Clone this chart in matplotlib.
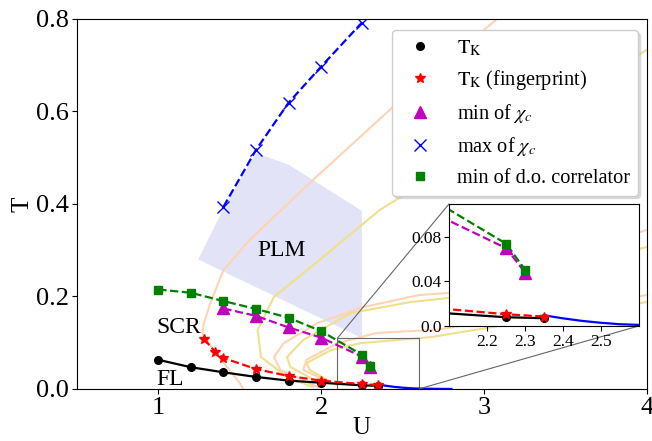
import matplotlib.pyplot as plt
from mpl_toolkits.axes_grid1.inset_locator import mark_inset

plt.rcParams['font.family'] = 'serif'
plt.rcParams['font.serif'] = ['Liberation Serif', 'DejaVu Serif']
plt.rcParams['mathtext.fontset'] = 'stix'

# T_K (black)
u_tk = [1.0, 1.2, 1.4, 1.6, 1.8, 2.0, 2.25, 2.35]
t_tk = [0.063, 0.047, 0.036, 0.026, 0.018, 0.0135, 0.0078, 0.0069]
# T_K from fingerprint (red)
u_fp = [1.28, 1.35, 1.4, 1.6, 1.8, 2.0, 2.25, 2.35]
t_fp = [0.108, 0.080, 0.067, 0.043, 0.028, 0.018, 0.0105, 0.0084]
# min of chi_c (magenta)
u_chmin = [1.4, 1.6, 1.8, 2.0, 2.25, 2.3]
t_chmin = [0.174, 0.158, 0.133, 0.111, 0.070, 0.048]
# max of chi_c (blue)
u_chmax = [1.4, 1.6, 1.8, 2.0, 2.25]
t_chmax = [0.394, 0.517, 0.619, 0.697, 0.792]
# min of d.o. correlator (green)
u_do = [1.0, 1.2, 1.4, 1.6, 1.8, 2.0, 2.25, 2.3]
t_do = [0.215, 0.208, 0.190, 0.173, 0.154, 0.125, 0.074, 0.0505]
# tail of T_K (blue solid)
u_tail = [2.35, 2.4, 2.45, 2.5, 2.55, 2.6, 2.7, 2.8]
t_tail = [0.0095, 0.0068, 0.0045, 0.0028, 0.0015, 0.0009, 0.0003, 0.0]

# PLM region
plm_u = [1.40, 1.60, 1.80, 2.25, 2.25, 1.245]
plm_t = [0.39, 0.51, 0.485, 0.385, 0.11, 0.28]

# faint background contours
or1_u = [3.08, 2.42, 1.95, 1.56, 1.40, 1.32, 1.28, 1.27, 1.34, 1.50, 1.52]
or1_t = [0.80, 0.603, 0.452, 0.322, 0.257, 0.186, 0.143, 0.12, 0.084, 0.013, 0.0]
ye1_u = [4.0, 2.59, 2.36, 1.99, 1.71, 1.61, 1.63, 1.79, 1.95]
ye1_t = [0.733, 0.437, 0.387, 0.279, 0.199, 0.128, 0.069, 0.026, 0.004]
or2_u = [4.0, 2.79, 2.60, 2.26, 1.98, 1.77, 1.71, 1.75, 1.98]
or2_t = [0.344, 0.208, 0.203, 0.177, 0.143, 0.099, 0.069, 0.041, 0.004]
ye2_u = [4.0, 2.79, 2.55, 2.18, 1.89, 1.79, 1.81, 1.99]
ye2_t = [0.307, 0.197, 0.188, 0.164, 0.106, 0.069, 0.048, 0.013]
or3_u = [4.0, 2.71, 2.34, 2.10, 1.91, 1.89, 2.06]
or3_t = [0.203, 0.128, 0.121, 0.099, 0.063, 0.041, 0.013]
ye3_u = [4.0, 2.67, 2.24, 2.06, 1.91, 1.93, 2.09]
ye3_t = [0.188, 0.112, 0.099, 0.084, 0.056, 0.041, 0.009]

ORANGE = '#ffd3b4'
YELLOW = '#efe08a'


def draw_data(ax):
    ax.plot(u_tk, t_tk, '-', color='k', lw=1.6)
    ax.plot(u_fp, t_fp, '--', color='r', lw=1.6)
    ax.plot(u_chmin, t_chmin, '--', color='m', lw=1.6)
    ax.plot(u_chmax, t_chmax, '--', color='b', lw=1.6)
    ax.plot(u_do, t_do, '--', color='g', lw=1.6)
    ax.plot(u_tail, t_tail, '-', color='b', lw=1.6)
    ax.plot(u_tk, t_tk, 'o', color='k', ms=5.5, label=r'$\mathrm{T_K}$')
    ax.plot(u_fp, t_fp, '*', color='r', ms=7, label=r'$\mathrm{T_K}$ (fingerprint)')
    ax.plot(u_chmin, t_chmin, '^', color='m', ms=8, label=r'min of $\chi_c$')
    ax.plot(u_chmax, t_chmax, 'x', color='b', ms=8, label=r'max of $\chi_c$')
    ax.plot(u_do, t_do, 's', color='g', ms=6, label='min of d.o. correlator')


fig = plt.figure(figsize=(6.52, 4.41), dpi=100)
ax = fig.add_axes([0.118, 0.118, 0.874, 0.839])

for cu, ct, col in [(or1_u, or1_t, ORANGE), (ye1_u, ye1_t, YELLOW),
                    (or2_u, or2_t, ORANGE), (ye2_u, ye2_t, YELLOW),
                    (or3_u, or3_t, ORANGE), (ye3_u, ye3_t, YELLOW)]:
    ax.plot(cu, ct, color=col, lw=1.5, zorder=1)

ax.fill(plm_u, plm_t, color='#e2e3f6', lw=0, zorder=0)
draw_data(ax)

ax.text(1.607, 0.288, 'PLM', fontsize=17)
ax.text(0.988, 0.121, 'SCR', fontsize=17)
ax.text(0.988, 0.009, 'FL', fontsize=17)

ax.set_xlim(0.5, 4)
ax.set_ylim(0, 0.8)
ax.set_xticks([1, 2, 3, 4])
ax.set_yticks([0.0, 0.2, 0.4, 0.6, 0.8])
ax.tick_params(labelsize=19, pad=2)
ax.set_xlabel('U', fontsize=18, labelpad=-1)
ax.set_ylabel('T', fontsize=18, labelpad=2)

ax.legend(loc='upper right', bbox_to_anchor=(0.984, 0.97), borderaxespad=0,
          fontsize=14.6, shadow={'color': '0.75'}, framealpha=1)

# inset
axins = fig.add_axes([0.689, 0.261, 0.291, 0.277])
draw_data(axins)
axins.set_xlim(2.1, 2.6)
axins.set_ylim(0, 0.11)
axins.set_xticks([2.2, 2.3, 2.4, 2.5])
axins.set_yticks([0.0, 0.04, 0.08])
axins.set_yticklabels(['0.0', '0.04', '0.08'])
axins.tick_params(labelsize=12.5, pad=2)
mark_inset(ax, axins, loc1=2, loc2=4, fc='none', ec='0.4', lw=0.8)

fig.savefig('out.png', dpi=100)
